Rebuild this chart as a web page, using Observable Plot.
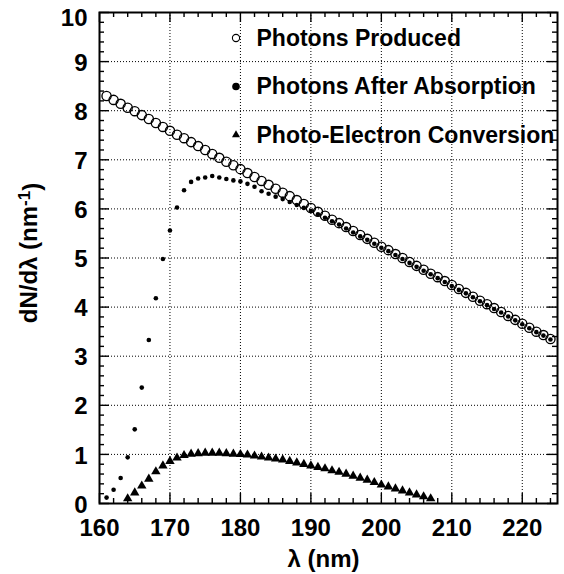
<!DOCTYPE html>
<html><head><meta charset="utf-8">
<script src="https://cdn.jsdelivr.net/npm/d3@7"></script>
<script src="https://cdn.jsdelivr.net/npm/@observablehq/plot@0.6"></script>
<style>
html,body{margin:0;padding:0;background:#fff;}
#chart svg{display:block;}
</style></head><body><div id="chart"></div>
<script>
// ---------- data ----------
const lambdaProduced = [161,162,163,164,165,166,167,168,169,170,171,172,173,174,175,176,177,178,179,180,181,182,183,184,185,186,187,188,189,190,191,192,193,194,195,196,197,198,199,200,201,202,203,204,205,206,207,208,209,210,211,212,213,214,215,216,217,218,219,220,221,222,223,224];
const photonsProduced = [8.30,8.22,8.14,8.06,7.99,7.91,7.83,7.75,7.67,7.59,7.51,7.44,7.36,7.28,7.20,7.12,7.04,6.96,6.89,6.81,6.73,6.65,6.57,6.49,6.41,6.33,6.26,6.18,6.10,6.02,5.94,5.86,5.78,5.71,5.63,5.55,5.47,5.39,5.31,5.23,5.16,5.08,5.00,4.92,4.84,4.76,4.68,4.61,4.53,4.45,4.37,4.29,4.21,4.13,4.06,3.98,3.90,3.82,3.74,3.66,3.58,3.50,3.43,3.35];

const lambdaAbsorbed = [161,162,163,164,165,166,167,168,169,170,171,172,173,174,175,176,177,178,179,180,181,182,183,184,185,186,187,188,189,190,191,192,193,194,195,196,197,198,199,200,201,202,203,204,205,206,207,208,209,210,211,212,213,214,215,216,217,218,219,220,221,222,223,224];
const photonsAbsorbed = [0.12,0.28,0.52,0.94,1.51,2.36,3.33,4.18,4.98,5.56,6.03,6.38,6.55,6.62,6.64,6.67,6.64,6.61,6.58,6.56,6.51,6.45,6.36,6.31,6.25,6.20,6.14,6.08,6.02,5.96,5.89,5.82,5.75,5.68,5.60,5.52,5.44,5.37,5.29,5.21,5.14,5.06,4.98,4.90,4.82,4.74,4.67,4.59,4.51,4.43,4.35,4.28,4.20,4.12,4.04,3.96,3.89,3.81,3.73,3.65,3.57,3.49,3.42,3.34];

const lambdaConverted = [164,165,166,167,168,169,170,171,172,173,174,175,176,177,178,179,180,181,182,183,184,185,186,187,188,189,190,191,192,193,194,195,196,197,198,199,200,201,202,203,204,205,206,207];
const photoElectrons = [0.10,0.22,0.36,0.50,0.65,0.77,0.86,0.93,0.98,1.01,1.02,1.03,1.03,1.03,1.02,1.01,1.00,0.99,0.97,0.95,0.93,0.91,0.89,0.86,0.83,0.80,0.77,0.74,0.71,0.67,0.64,0.60,0.56,0.52,0.48,0.43,0.38,0.34,0.30,0.26,0.22,0.18,0.14,0.10];

const xMajorTicks = [160,170,180,190,200,210,220];
const xMinorTicks = [162,164,166,168,172,174,176,178,182,184,186,188,192,194,196,198,202,204,206,208,212,214,216,218,222,224];
const yMajorTicks = [0,1,2,3,4,5,6,7,8,9,10];
const yMinorTicks = [0.2,0.4,0.6,0.8,1.2,1.4,1.6,1.8,2.2,2.4,2.6,2.8,3.2,3.4,3.6,3.8,4.2,4.4,4.6,4.8,5.2,5.4,5.6,5.8,6.2,6.4,6.6,6.8,7.2,7.4,7.6,7.8,8.2,8.4,8.6,8.8,9.2,9.4,9.6,9.8];
const xGridTicks = [170,180,190,200,210,220];
const yGridTicks = [1,2,3,4,5,6,7,8,9];

const xTitle = "λ (nm)";
const yTitleMain = "dN/dλ (nm";
const yTitleSup = "-1";
const yTitleEnd = ")";
const legendLabels = ["Photons Produced", "Photons After Absorption", "Photo-Electron Conversion"];

// ---------- layout ----------
const W = 564, H = 574;
const mL = 99, mR = 7, mT = 12, mB = 71;
const innerW = W - mL - mR;
const innerH = H - mT - mB;
const FONT = "'Liberation Sans', Arial, Helvetica, sans-serif";

const produced = lambdaProduced.map((x, i) => ({x, y: photonsProduced[i]}));
const absorbed = lambdaAbsorbed.map((x, i) => ({x, y: photonsAbsorbed[i]}));
const converted = lambdaConverted.map((x, i) => ({x, y: photoElectrons[i]}));

const yTop = yMajorTicks[yMajorTicks.length - 1];

const legendStyles = [
  {symbol: "circle", r: 3.6, fill: "none", stroke: "#000", strokeWidth: 1.1},
  {symbol: "circle", r: 3.8, fill: "#000", stroke: "none"},
  {symbol: "triangle", r: 3.0, fill: "#000", stroke: "none"}
];
const legendRowDy = [25.5, 74, 122.5];

const legendMarks = legendLabels.flatMap((label, i) => [
  Plot.dot([label], {frameAnchor: "top-left", dx: 136.5, dy: legendRowDy[i], ...legendStyles[i]}),
  Plot.text([label], {frameAnchor: "top-left", dx: 157, dy: legendRowDy[i] + 0.5, text: d => d,
    textAnchor: "start", lineAnchor: "middle", fontSize: 23, fontWeight: "bold", fill: "#000"})
]);

const tickStyle = {stroke: "#000", strokeWidth: 1.4};
const yLabelStyle = {tickSize: 0, tickPadding: 12, fontSize: 24, fontWeight: "bold",
  label: null, tickFormat: d => String(d), fill: "#000"};

const chart = Plot.plot({
  width: W, height: H,
  marginLeft: mL, marginRight: mR, marginTop: mT, marginBottom: mB,
  style: {fontFamily: FONT, background: "#fff", color: "#000", overflow: "visible"},
  x: {domain: [160, 225]},
  y: {domain: [0, 10]},
  marks: [
    Plot.gridX(xGridTicks, {stroke: "#000", strokeOpacity: 1, strokeWidth: 1, strokeDasharray: "1,2"}),
    Plot.gridY(yGridTicks, {stroke: "#000", strokeOpacity: 1, strokeWidth: 1, strokeDasharray: "1,2"}),

    Plot.dot(produced, {x: "x", y: "y", r: 4.6, fill: "none", stroke: "#000", strokeWidth: 1.35}),
    Plot.dot(absorbed, {x: "x", y: "y", r: 2.3, fill: "#000", stroke: "none"}),
    Plot.dot(converted, {x: "x", y: "y", symbol: "triangle", r: 3.5, fill: "#000", stroke: "none"}),

    // inward ticks on all four sides
    Plot.tickX(xMajorTicks, {x: d => d, insetTop: innerH - 10, ...tickStyle}),
    Plot.tickX(xMinorTicks, {x: d => d, insetTop: innerH - 5, ...tickStyle}),
    Plot.tickX(xMajorTicks, {x: d => d, insetBottom: innerH - 10, ...tickStyle}),
    Plot.tickX(xMinorTicks, {x: d => d, insetBottom: innerH - 5, ...tickStyle}),
    Plot.tickY(yMajorTicks, {y: d => d, insetRight: innerW - 10, ...tickStyle}),
    Plot.tickY(yMinorTicks, {y: d => d, insetRight: innerW - 5, ...tickStyle}),
    Plot.tickY(yMajorTicks, {y: d => d, insetLeft: innerW - 10, ...tickStyle}),
    Plot.tickY(yMinorTicks, {y: d => d, insetLeft: innerW - 5, ...tickStyle}),

    Plot.axisX({ticks: xMajorTicks, tickSize: 0, tickPadding: 15, fontSize: 24, fontWeight: "bold",
      label: null, tickFormat: d => String(d), fill: "#000"}),
    Plot.axisY({ticks: yMajorTicks.filter(d => d !== yTop), dy: 1.5, ...yLabelStyle}),
    Plot.axisY({ticks: [yTop], dy: 6, ...yLabelStyle}),

    Plot.frame({stroke: "#000", strokeWidth: 2}),

    Plot.text([xTitle], {frameAnchor: "bottom", dx: -5, dy: 56, text: d => d,
      textAnchor: "middle", lineAnchor: "middle", fontSize: 24, fontWeight: "bold", fill: "#000"}),
    Plot.text([yTitleMain + yTitleSup + yTitleEnd], {frameAnchor: "left", dx: -70, dy: -5, rotate: -90, text: d => d,
      textAnchor: "middle", lineAnchor: "middle", fontSize: 24, fontWeight: "bold", fill: "#000"}),

    ...legendMarks
  ]
});

// render the exponent of the y title as a real superscript
d3.select(chart).selectAll("text")
  .filter(function() { return this.textContent === yTitleMain + yTitleSup + yTitleEnd; })
  .each(function() {
    const t = d3.select(this);
    t.text(null);
    t.append("tspan").text(yTitleMain);
    t.append("tspan").attr("dy", "-0.45em").attr("font-size", "17").text(yTitleSup);
    t.append("tspan").attr("dy", "0.45em").text(yTitleEnd);
  });

document.getElementById("chart").appendChild(chart);
</script>
</body></html>
